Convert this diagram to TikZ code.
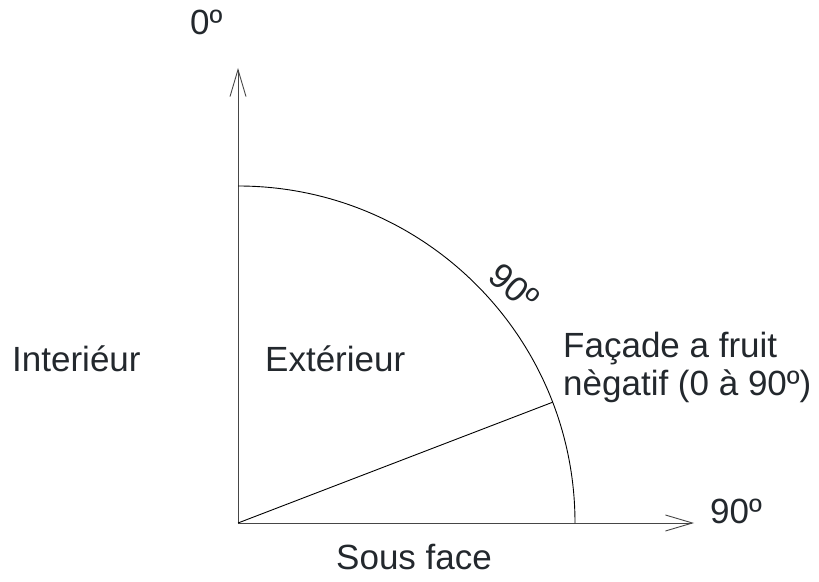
\documentclass[tikz,border=0pt]{standalone}
\usepackage{fontspec}
\setmainfont{Liberation Sans}
\usetikzlibrary{arrows.meta}
\definecolor{txt}{RGB}{35,40,45}
\definecolor{axis}{RGB}{70,70,70}
\begin{document}
\begin{tikzpicture}[x=1pt,y=1pt,
  lbl/.style={font=\fontsize{35}{41}\selectfont, text=txt, inner sep=0pt, anchor=base west},
  axisline/.style={draw=axis, line width=0.9pt, -{Straight Barb[length=27pt,width=16pt,line width=0.9pt]}},
  arcline/.style={draw=black, line width=0.9pt}]
\useasboundingbox (0,0) rectangle (819,581);
\coordinate (O) at (238,58);
\coordinate (Ytop) at (238,513);
\coordinate (Xend) at (694,58);
\coordinate (A) at (238,395);
\coordinate (P) at ({238+337*cos(21)},{58+337*sin(21)});
\draw[axisline] (O) -- (Ytop);
\draw[axisline] (O) -- (Xend);
\draw[arcline] (A) arc[start angle=90, end angle=0, radius=337];
\draw[arcline] (O) -- (P);
\node[lbl] (zero) at (190,546) {0º};
\node[lbl] (ninetyx) at (710,58) {90º};
\node[lbl] (int) at (12,209) {Interiéur};
\node[lbl] (ext) at (265,209) {Extérieur};
\node[lbl] (fac1) at (563,223) {Façade a fruit};
\node[lbl] (fac2) at (563,185) {nègatif (0 à 90º)};
\node[lbl] (sous) at (336,12) {Sous face};
\node[font=\fontsize{35}{41}\selectfont, text=txt, inner sep=0pt, rotate=-40] (ninetyarc) at (514,294) {90º};
\end{tikzpicture}
\end{document}
